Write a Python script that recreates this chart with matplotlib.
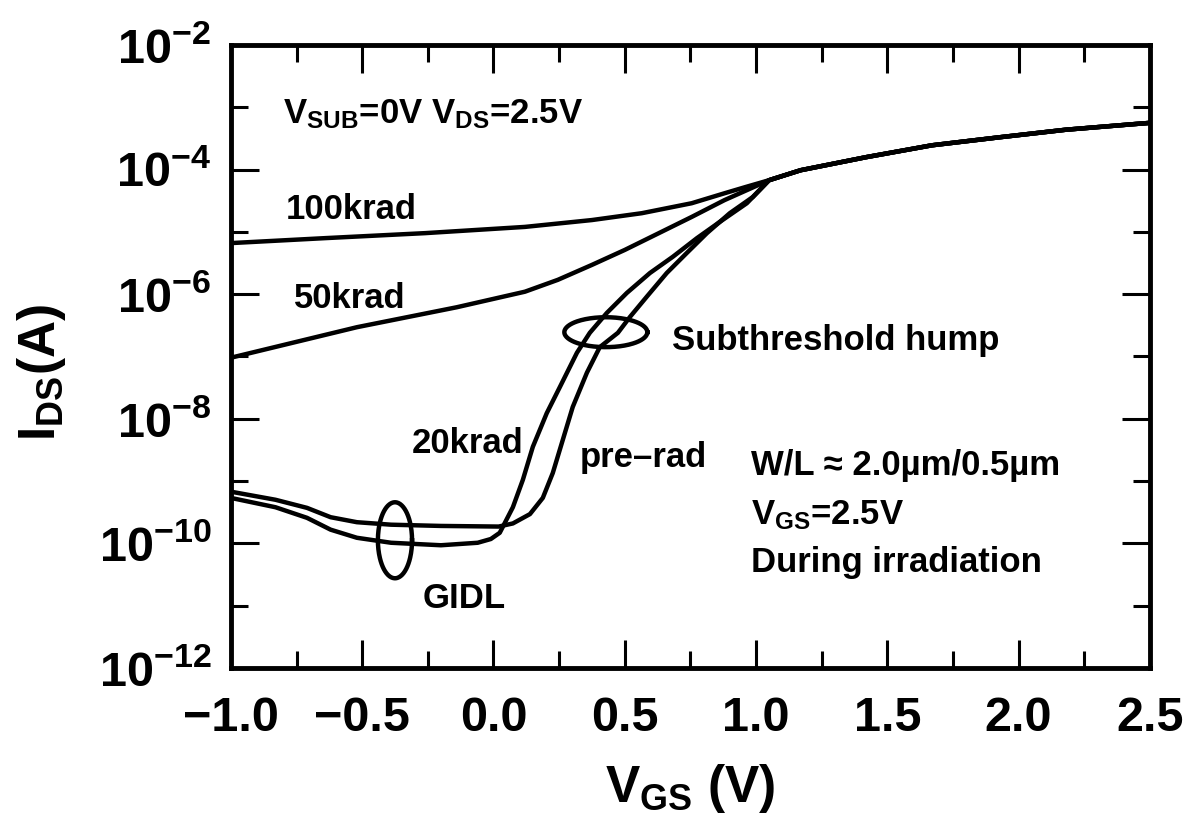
import numpy as np
import matplotlib.pyplot as plt
from matplotlib.ticker import FixedLocator, FixedFormatter, MultipleLocator, NullFormatter

plt.rcParams['font.family'] = ['Liberation Sans', 'DejaVu Sans']
plt.rcParams['font.weight'] = 'bold'
plt.rcParams['axes.labelweight'] = 'bold'
plt.rcParams['mathtext.fontset'] = 'custom'
plt.rcParams['mathtext.rm'] = 'Liberation Sans:bold'
plt.rcParams['mathtext.it'] = 'Liberation Sans:bold'
plt.rcParams['mathtext.bf'] = 'Liberation Sans:bold'
plt.rcParams['mathtext.default'] = 'bf'

# Gate voltage (V) and log10 of drain current (A)
vgs_100k = [-1.00, -0.64, -0.26, 0.12, 0.375, 0.565, 0.755, 0.88, 0.96]
log_ids_100k = [-5.18, -5.10, -5.02, -4.92, -4.81, -4.70, -4.54, -4.38, -4.28]

vgs_50k = [-1.00, -0.52, -0.14, 0.12, 0.245, 0.375, 0.50, 0.63, 0.755, 0.88]
log_ids_50k = [-7.02, -6.53, -6.21, -5.96, -5.77, -5.53, -5.29, -5.02, -4.76, -4.49]

vgs_20k = [-1.00, -0.83, -0.71, -0.62, -0.52, -0.39, -0.20, -0.06, -0.01, 0.024, 0.074,
           0.112, 0.15, 0.203, 0.253, 0.318, 0.367, 0.432, 0.508, 0.596, 0.683, 0.775,
           0.862, 0.965]
log_ids_20k = [-9.27, -9.42, -9.59, -9.78, -9.91, -9.99, -10.03, -9.99, -9.93, -9.83, -9.42,
               -8.98, -8.45, -7.91, -7.49, -6.94, -6.62, -6.30, -5.98, -5.66, -5.40, -5.10,
               -4.84, -4.54]

vgs_pre = [-1.00, -0.83, -0.71, -0.62, -0.52, -0.39, -0.20, 0.02, 0.074, 0.139, 0.188,
           0.226, 0.264, 0.302, 0.356, 0.405, 0.474, 0.519, 0.584, 0.66, 0.736, 0.813,
           0.90, 0.988]
log_ids_pre = [-9.17, -9.30, -9.43, -9.58, -9.66, -9.70, -9.72, -9.73, -9.68, -9.53, -9.27,
               -8.87, -8.34, -7.81, -7.26, -6.85, -6.62, -6.37, -6.04, -5.66, -5.34, -5.02,
               -4.70, -4.44]

# above threshold all four curves lie on top of each other
vgs_on = [1.05, 1.17, 1.42, 1.67, 1.93, 2.18, 2.44, 2.50]
log_ids_on = [-4.17, -4.01, -3.80, -3.61, -3.48, -3.36, -3.27, -3.25]

x_ticks = [-1.0, -0.5, 0.0, 0.5, 1.0, 1.5, 2.0, 2.5]
y_decades = [-12, -10, -8, -6, -4, -2]

fig = plt.figure(figsize=(11.9, 8.18), dpi=100)
ax = fig.add_axes([0.194, 0.1834, 0.7723, 0.7616])

for v, lg in [(vgs_100k, log_ids_100k), (vgs_50k, log_ids_50k),
              (vgs_20k, log_ids_20k), (vgs_pre, log_ids_pre)]:
    x = np.array(v + vgs_on)
    y = 10.0 ** np.array(lg + log_ids_on)
    ax.plot(x, y, color='black', lw=3.2, solid_joinstyle='round', solid_capstyle='round')

ax.set_yscale('log')
ax.set_xlim(-1.0, 2.5)
ax.set_ylim(1e-12, 1e-2)

# ellipses marking the hump and the GIDL region (drawn in V / decade space)
t = np.linspace(0, 2 * np.pi, 200)
for cx, cy, a, b in [(0.428, -6.61, 0.158, 0.24), (-0.375, -9.95, 0.065, 0.61)]:
    ax.plot(cx + a * np.cos(t), 10.0 ** (cy + b * np.sin(t)), color='black', lw=3.2)

# axes, ticks
for sp in ax.spines.values():
    sp.set_linewidth(3.5)
ax.xaxis.set_major_locator(FixedLocator(x_ticks))
ax.xaxis.set_minor_locator(MultipleLocator(0.25))
ax.set_xticklabels([f'{v:.1f}'.replace('-', '\u2212') for v in x_ticks])
ax.yaxis.set_major_locator(FixedLocator([10.0 ** d for d in y_decades]))
ax.yaxis.set_major_formatter(FixedFormatter([r'$10^{%d}$' % d for d in y_decades]))
ax.yaxis.set_minor_locator(FixedLocator([10.0 ** d for d in range(-11, -2, 2)]))
ax.yaxis.set_minor_formatter(NullFormatter())
ax.tick_params(which='both', direction='in', top=True, right=True, width=2.2)
ax.tick_params(which='major', length=20)
ax.tick_params(which='minor', length=12)
ax.tick_params(axis='x', labelsize=35, pad=20)
ax.tick_params(axis='y', labelsize=35, pad=14)

ax.set_xlabel(r'$V_{GS}$ (V)', fontsize=37, labelpad=15)
ax.set_ylabel(r'$I_{DS}$(A)', fontsize=37)
ax.yaxis.set_label_coords(-0.177, 0.475)

fs = 25
ax.text(-0.80, 10 ** -3.25, r'$V_{SUB}$=0V $V_{DS}$=2.5V', fontsize=fs, va='baseline')
ax.text(-0.79, 10 ** -4.79, '100krad', fontsize=fs, va='baseline')
ax.text(-0.76, 10 ** -6.22, '50krad', fontsize=fs, va='baseline')
ax.text(0.68, 10 ** -6.90, 'Subthreshold hump', fontsize=fs, va='baseline')
ax.text(-0.31, 10 ** -8.55, '20krad', fontsize=fs, va='baseline')
ax.text(0.33, 10 ** -8.77, 'pre\u2013rad', fontsize=fs, va='baseline')
ax.text(0.98, 10 ** -8.90, 'W/L \u2248 2.0\u00b5m/0.5\u00b5m', fontsize=fs, va='baseline')
ax.text(0.98, 10 ** -9.70, r'$V_{GS}$=2.5V', fontsize=fs, va='baseline')
ax.text(0.98, 10 ** -10.46, 'During irradiation', fontsize=fs, va='baseline')
ax.text(-0.27, 10 ** -11.04, 'GIDL', fontsize=fs, va='baseline')

fig.savefig('out.png', dpi=100)
